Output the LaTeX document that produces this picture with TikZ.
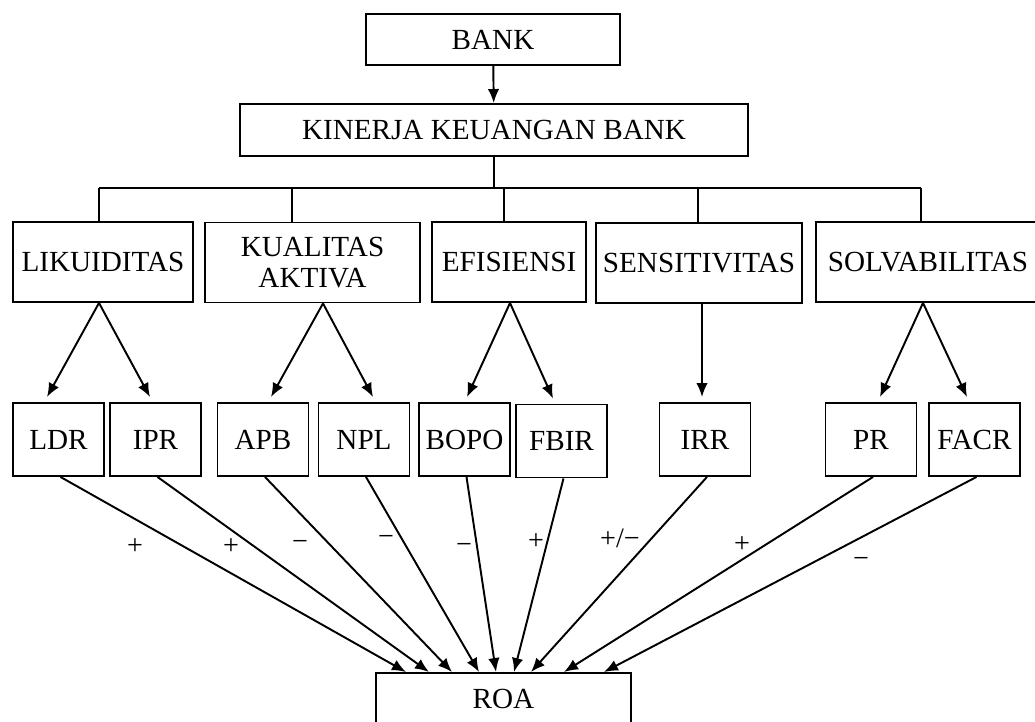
\documentclass[tikz,border=0pt]{standalone}
\usepackage{fontspec}
\setmainfont{Liberation Serif}
\usetikzlibrary{positioning}
\usetikzlibrary{arrows.meta}
\usetikzlibrary{calc}
\tikzstyle{line} = [draw, line width=1.1pt, -{Latex[length=2.8mm,width=2.3mm]}]

\begin{document}
\begin{tikzpicture}[x=0.02cm, y=-0.02cm,
				internal/.style={draw, rectangle, line width=1.1pt, inner sep=2pt, font=\fontsize{16.6}{17.5}\selectfont},
				level/.style={internal, minimum height=1.6cm},
				ratio/.style={internal, minimum width=1.82cm, minimum height=1.46cm},
				sign/.style={font=\fontsize{16}{17}\selectfont},
				every text node part/.style={align=center}]
				\useasboundingbox (0,0) rectangle (1035,722);
				\node[internal, minimum width=5.08cm, minimum height=1.02cm](bank) at (493, 39.5) {BANK};
				\node[internal, minimum width=10.16cm, minimum height=1.04cm](kinerja) at (494, 130) {KINERJA KEUANGAN BANK};
				
				\node[level, minimum width=3.6cm](likuiditas) at (103, 262) {LIKUIDITAS};
				\node[level, minimum width=4.3cm](kualitas) at (312.5, 262.5) {KUALITAS\\AKTIVA};
				\node[level, minimum width=3.08cm](efisiensi) at (509, 262) {EFISIENSI};
				\node[level, minimum width=4.12cm](sensitivitas) at (699, 263) {SENSITIVITAS};
				\node[level, minimum width=4.48cm](solvabilitas) at (928, 262) {SOLVABILITAS};
				
				\node[ratio](ldr) at (58.5, 439.5) {LDR};
				\node[ratio](ipr) at (155.5, 439.5) {IPR};
				\node[ratio](apb) at (263, 439.5) {APB};
				\node[ratio](npl) at (364, 439.5) {NPL};
				\node[ratio](bopo) at (464.5, 439.5) {BOPO};
				\node[ratio](fbir) at (561.5, 441) {FBIR};
				\node[ratio](irr) at (705, 439.5) {IRR};
				\node[ratio](pr) at (871, 439.5) {PR};
				\node[ratio](facr) at (974.5, 439.5) {FACR};
				
				\node[internal, minimum width=5.1cm, minimum height=1.04cm](roa) at (503.5, 699) {ROA};
				
				\draw[line] (bank) -- (kinerja);
				\draw[line width=1.1pt] (kinerja.south) -- (494, 188);
				\draw[line width=1.1pt] (99, 188) -- (921, 188);
				\foreach \x/\n in {99/likuiditas, 292/kualitas, 504/efisiensi, 698/sensitivitas, 921/solvabilitas}
					\draw[line width=1.1pt] (\x, 188) -- (\n.north -| \x, 188);
				
				\foreach \p/\dp/\c/\dc in {likuiditas/-4/ldr/-11.5, likuiditas/-4/ipr/-5.5,
						kualitas/10.5/apb/8, kualitas/10.5/npl/9,
						efisiensi/1/bopo/2.5, efisiensi/1/fbir/-8.5,
						sensitivitas/3/irr/-3,
						solvabilitas/-5/pr/9, solvabilitas/-5/facr/-7.5}
					\draw[line] ($(\p.south)+(\dp, 0)$) -- ($(\c.north)+(\dc, -5)$);
				
				\foreach \c/\dc in {ldr/-97.5, ipr/-74.5, apb/-51.5, npl/-24.5, bopo/-7.5,
						fbir/10.5, irr/27.5, pr/60.5, facr/100.5}
					\draw[line] ($(\c.south)+(2, 0)$) -- ($(roa.north)+(\dc, 0)$);
				
				\node[sign](s1) at (135, 547) {+};
				\node[sign](s2) at (231, 547) {+};
				\node[sign](s3) at (300, 545) {−};
				\node[sign](s4) at (386, 540) {−};
				\node[sign](s5) at (464, 548) {−};
				\node[sign](s6) at (536, 542) {+};
				\node[sign](s7) at (620, 538) {+/−};
				\node[sign](s8) at (742, 545) {+};
				\node[sign](s9) at (861, 562) {−};
			\end{tikzpicture}
\end{document}
